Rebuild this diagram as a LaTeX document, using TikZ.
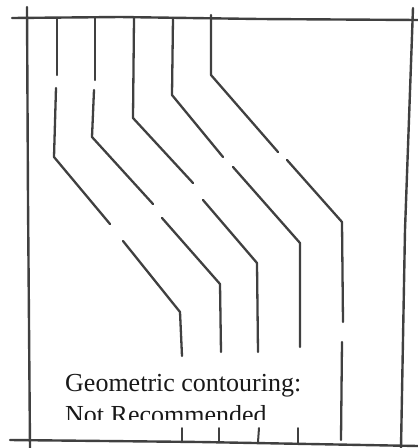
\documentclass[tikz,border=0pt]{standalone}
\usepackage{fontspec}
\setmainfont{Liberation Serif}
\usetikzlibrary{calc}

\begin{document}
\begin{tikzpicture}[
  x=1pt, y=-1pt,
  pen/.style={draw=black!75, line width=2.3pt, line cap=round, line join=round},
  frame/.style={pen, line width=2.4pt},
  tick/.style={pen, line width=2pt},
  caption/.style={anchor=base west, inner sep=0pt, text=black!90,
                  font=\fontsize{26}{32}\selectfont}
]
\useasboundingbox (0,0) rectangle (418,448);
% Frame with crossing corners
\draw[frame] (12,18) -- (120,17) -- (260,19) -- (418,20);
\draw[frame] (10,440) -- (200,442) -- (418,446);
\draw[frame] (27,7) -- (28,200) -- (30,448);
\draw[frame] (413,8) -- (405,230) -- (401,448);
% Ticks along the bottom edge
\draw[tick] (182,428) -- (182,441);
\draw[tick] (219,428) -- (219,442);
\draw[tick] (259,428) -- (258,442);
\draw[tick] (298,428) -- (298,443);
% Contour lines, each broken by short gaps
\draw[pen] (57,18) -- (57,75);
\draw[pen] (56,88) -- (54,157) -- (110,224);
\draw[pen] (123,241) -- (180,312) -- (182,356);
\draw[pen] (95,18) -- (95,80);
\draw[pen] (94,90) -- (92,137) -- (153,204);
\draw[pen] (162,218) -- (220,284) -- (221,352);
\draw[pen] (134,18) -- (133,118) -- (193,183);
\draw[pen] (203,200) -- (257,263) -- (258,352);
\draw[pen] (173,18) -- (172,95) -- (223,157);
\draw[pen] (233,167) -- (300,243) -- (300,347);
\draw[pen] (211,15) -- (211,75) -- (278,152);
\draw[pen] (287,160) -- (342,222) -- (343,322);
\draw[pen] (342,342) -- (341,440);
% Caption, second line cut off below
\begin{scope}
\clip (0,0) rectangle (418,419);
\node[caption] (title) at (65,391) {Geometric contouring:};
\node[caption] (verdict) at (65,423) {Not Recommended};
\end{scope}
\end{tikzpicture}
\end{document}
